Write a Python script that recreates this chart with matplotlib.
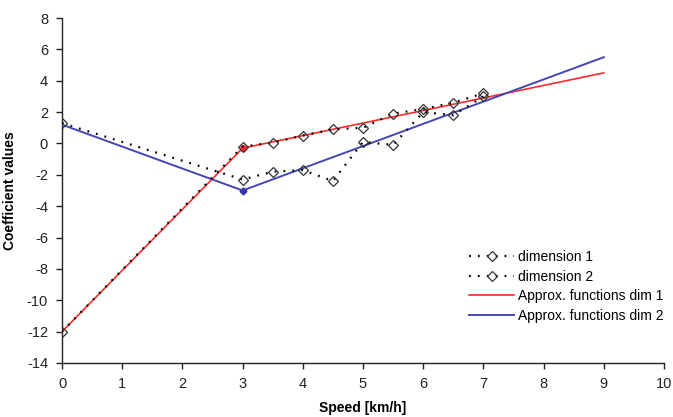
import matplotlib.pyplot as plt
import numpy as np

plt.rcParams['font.family'] = ['Liberation Sans', 'DejaVu Sans']
plt.rcParams['axes.unicode_minus'] = False

# measured coefficients
speed = [0, 3, 3.5, 4, 4.5, 5, 5.5, 6, 6.5, 7]
dim1 = [-12.0, -0.2, 0.05, 0.5, 0.9, 1.0, 1.9, 2.2, 2.6, 3.2]
dim2 = [1.3, -2.3, -1.8, -1.7, -2.4, 0.1, -0.1, 2.0, 1.8, 3.0]

# piecewise linear approximations
approx_x = [0, 3, 9]
approx_dim1 = [-12.0, -0.3, 4.5]
approx_dim2 = [1.2, -3.0, 5.5]

fig = plt.figure(figsize=(6.73, 4.17), dpi=100)
ax = fig.add_axes([62 / 673, 1 - 363 / 417, (664 - 62) / 673, (363 - 18) / 417])

ax.plot(approx_x, approx_dim1, color='#ff2a2a', lw=1.2,
        label='Approx. functions dim 1', zorder=3)
ax.plot(approx_x, approx_dim2, color='#4545b5', lw=1.4,
        label='Approx. functions dim 2', zorder=3)
# breakpoint markers
ax.plot(approx_x[1], approx_dim1[1], 'o', color='#ff2a2a', ms=4, zorder=3)
ax.plot(approx_x[1], approx_dim2[1], 'D', color='#3535a5', ms=3.5, zorder=3)

ax.plot(speed, dim1, color='black', lw=1.6, dashes=(0.8, 3.2), marker='D', ms=5,
        mfc='none', mec='#333333', mew=0.9, label='dimension 1', zorder=4)
ax.plot(speed, dim2, color='black', lw=1.6, dashes=(0.8, 3.2), marker='D', ms=5,
        mfc='none', mec='#333333', mew=0.9, label='dimension 2', zorder=4)

ax.set_xlim(0, 10)
ax.set_ylim(-14, 8)
ax.set_xticks(np.arange(0, 11, 1))
ax.set_yticks(np.arange(-14, 9, 2))
for side in ['top', 'right']:
    ax.spines[side].set_visible(False)
for side in ['left', 'bottom']:
    ax.spines[side].set_color('#222222')
    ax.spines[side].set_linewidth(1.0)
ax.tick_params(direction='out', length=4, width=1, colors='#222222',
               labelsize=10.5, pad=6)

ax.set_xlabel('Speed [km/h]', fontsize=10, fontweight='bold', labelpad=7)
ax.set_ylabel('Coefficient values', fontsize=10, fontweight='bold', labelpad=7)

handles, labels = ax.get_legend_handles_labels()
order = [2, 3, 0, 1]
leg = ax.legend([handles[i] for i in order], [labels[i] for i in order],
                loc='lower right', bbox_to_anchor=(1.02, 0.08), frameon=False,
                fontsize=10, handlelength=3.2, handletextpad=0.3, labelspacing=0.4)

fig.savefig('out.png', dpi=100)
